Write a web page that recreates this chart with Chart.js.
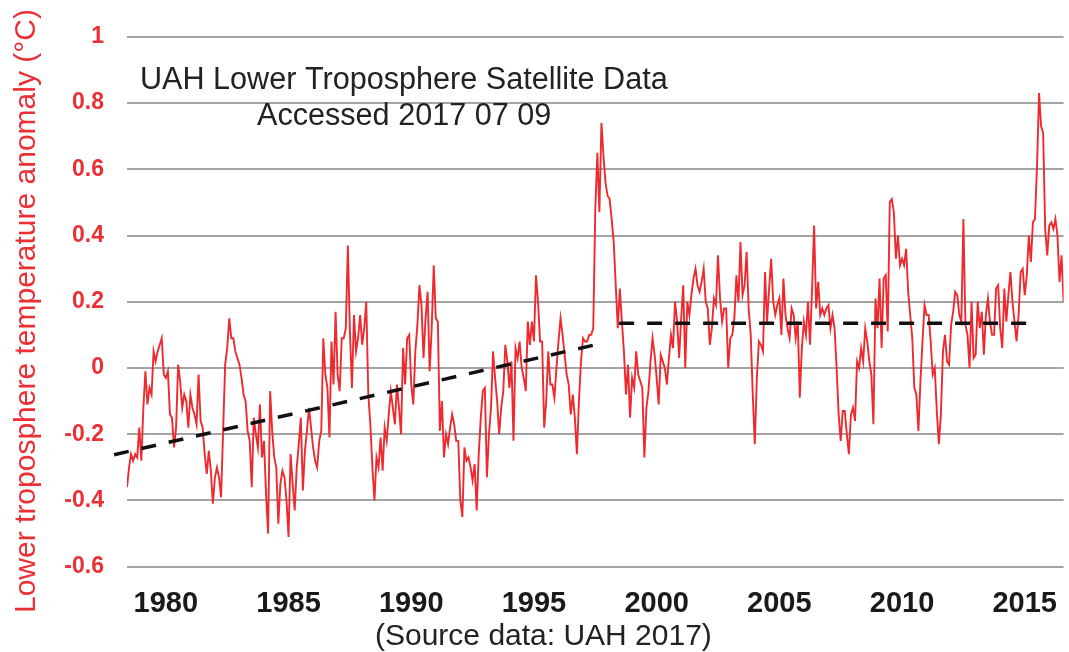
<!DOCTYPE html>
<html>
<head>
<meta charset="utf-8">
<title>UAH Lower Troposphere Satellite Data</title>
<style>
  html, body { margin: 0; padding: 0; background: #ffffff; }
  canvas { display: block; }
</style>
<script src="https://cdn.jsdelivr.net/npm/chart.js@4.4.1/dist/chart.umd.min.js"></script>
</head>
<body>
<canvas id="uahChart" width="1069" height="652"></canvas>
<script>
// Global lower-troposphere temperature anomaly (°C), monthly, from December 1978.
const firstMonth = 1978 + 11 / 12;

const uah1978to1979 = [-0.36, -0.30, -0.26, -0.28, -0.26, -0.27, -0.18, -0.28, -0.12, -0.01, -0.11, -0.06, -0.08];

const uah1980s = [
  0.05, 0.02, 0.05, 0.07, 0.09, -0.02, -0.03, -0.01, -0.14, -0.15, -0.24, -0.18,
  0.01, -0.04, -0.12, -0.08, -0.10, -0.18, -0.08, -0.12, -0.14, -0.17, -0.02, -0.16,
  -0.18, -0.26, -0.32, -0.25, -0.31, -0.41, -0.33, -0.30, -0.33, -0.39, -0.19, 0.01,
  0.06, 0.15, 0.09, 0.09, 0.05, 0.03, 0.01, -0.03, -0.08, -0.10, -0.19, -0.22,
  -0.36, -0.15, -0.20, -0.24, -0.11, -0.27, -0.22, -0.38, -0.50, -0.07, -0.19, -0.27,
  -0.30, -0.47, -0.35, -0.31, -0.33, -0.40, -0.51, -0.26, -0.35, -0.43, -0.30, -0.23,
  -0.15, -0.37, -0.25, -0.19, -0.12, -0.18, -0.24, -0.28, -0.30, -0.22, -0.19, 0.09,
  -0.02, -0.06, -0.21, 0.08, -0.05, 0.17, -0.02, -0.07, 0.09, 0.09, 0.12, 0.37,
  0.11, -0.06, 0.16, 0.05, 0.09, 0.16, 0.07, 0.12, 0.20, -0.08, -0.17, -0.30,
  -0.40, -0.27, -0.30, -0.21, -0.31, -0.18, -0.22, -0.14, -0.07, -0.12, -0.17, -0.05
];

const uah1990s = [
  -0.12, -0.20, 0.06, -0.05, 0.09, 0.10, -0.05, -0.11, 0.05, 0.13, 0.25, 0.19,
  0.03, 0.15, 0.23, -0.01, 0.12, 0.31, 0.15, 0.14, -0.19, -0.10, -0.27, -0.20,
  -0.23, -0.18, -0.14, -0.17, -0.22, -0.22, -0.40, -0.45, -0.24, -0.28, -0.27, -0.30,
  -0.34, -0.29, -0.43, -0.26, -0.15, -0.07, -0.06, -0.33, -0.20, -0.12, 0.05, -0.03,
  -0.10, -0.20, -0.12, -0.07, 0.07, 0.02, -0.06, 0.02, -0.22, 0.06, 0.03, 0.08,
  0.00, -0.03, -0.07, 0.14, 0.07, 0.14, 0.08, 0.28, 0.20, 0.08, 0.08, -0.18,
  -0.10, 0.05, -0.05, -0.05, -0.09, 0.00, 0.08, 0.15, 0.10, 0.04, -0.02, -0.05,
  -0.14, -0.08, -0.15, -0.26, -0.10, 0.02, 0.09, 0.08, 0.08, 0.10, 0.10, 0.12,
  0.48, 0.65, 0.47, 0.74, 0.64, 0.56, 0.52, 0.51, 0.45, 0.38, 0.25, 0.12,
  0.24, 0.14, 0.05, -0.08, 0.01, -0.15, -0.03, -0.06, 0.05, -0.02, -0.04, -0.06
];

const uah2000s = [
  -0.27, -0.12, -0.07, 0.02, 0.09, 0.04, -0.03, -0.11, 0.04, 0.02, 0.00, -0.05,
  0.03, 0.10, 0.06, 0.20, 0.14, 0.03, 0.15, 0.25, 0.00, 0.20, 0.16, 0.22,
  0.27, 0.30, 0.25, 0.23, 0.26, 0.30, 0.20, 0.18, 0.07, 0.12, 0.21, 0.19,
  0.34, 0.21, 0.14, 0.18, 0.18, 0.00, 0.09, 0.10, 0.15, 0.28, 0.20, 0.38,
  0.22, 0.25, 0.35, 0.18, 0.10, -0.08, -0.23, -0.03, 0.08, 0.07, 0.05, 0.29,
  0.14, 0.24, 0.33, 0.20, 0.16, 0.19, 0.21, 0.10, 0.27, 0.16, 0.12, 0.09,
  0.18, 0.16, 0.09, 0.14, -0.09, 0.06, 0.14, 0.10, 0.20, 0.07, 0.24, 0.43,
  0.18, 0.26, 0.16, 0.18, 0.16, 0.18, 0.19, 0.12, 0.16, 0.12, 0.00, -0.14,
  -0.22, -0.13, -0.13, -0.20, -0.26, -0.14, -0.12, -0.16, 0.02, 0.00, 0.06, 0.02,
  0.12, 0.08, 0.02, -0.02, -0.17, 0.21, 0.12, 0.27, 0.06, 0.27, 0.28, 0.11
];

const uah2010s = [
  0.50, 0.51, 0.47, 0.33, 0.40, 0.31, 0.33, 0.31, 0.36, 0.23, 0.16, 0.09,
  -0.06, -0.08, -0.19, -0.04, 0.08, 0.19, 0.16, 0.16, 0.08, -0.02, 0.00, -0.13,
  -0.23, -0.14, 0.05, 0.10, 0.02, 0.01, 0.13, 0.17, 0.23, 0.22, 0.16, 0.14,
  0.45, 0.13, 0.10, 0.00, 0.20, 0.03, 0.04, 0.20, 0.12, 0.17, 0.04, 0.16,
  0.21, 0.14, 0.10, 0.10, 0.24, 0.25, 0.12, 0.06, 0.24, 0.14, 0.22, 0.29,
  0.20, 0.14, 0.08, 0.16, 0.29, 0.30, 0.22, 0.28, 0.40, 0.32, 0.44, 0.45,
  0.61, 0.83, 0.73, 0.71, 0.42, 0.34, 0.43, 0.44, 0.42, 0.45, 0.40, 0.26,
  0.34, 0.20
];

// Dashed guide lines: rising trend to the 1998 peak, flat level afterwards
const trendRiseYears = [1978.39, 1998.29];
const trendRiseValues = [-0.262, 0.075];
const trendFlatYears = [1998.97, 2015.71];
const trendFlatValues = [0.135, 0.135];

// Axis labels
const yearLabels = [1980, 1985, 1990, 1995, 2000, 2005, 2010, 2015];
const anomalyTicks = [-0.6, -0.4, -0.2, 0, 0.2, 0.4, 0.6, 0.8, 1];

const titleLines = ['UAH Lower Troposphere Satellite Data', 'Accessed 2017 07 09'];
const sourceNote = '(Source data: UAH 2017)';
const yAxisTitle = 'Lower troposphere temperature anomaly (\u00B0C)';

const monthly = [].concat(uah1978to1979, uah1980s, uah1990s, uah2000s, uah2010s);
const monthlyPoints = monthly.map((v, i) => ({ x: firstMonth + i / 12, y: v }));
const lastMonth = firstMonth + (monthly.length - 1) / 12;
const toPoints = (xs, ys) => xs.map((x, i) => ({ x, y: ys[i] }));

const FONT = '"Liberation Sans", Arial, Helvetica, sans-serif';
const RED = '#ea2f35';
Chart.defaults.font.family = FONT;

// Free-standing captions and the rotated y-axis title
const captions = {
  id: 'captions',
  afterDraw(chart) {
    const c = chart.ctx;
    c.save();
    c.textAlign = 'left';
    c.textBaseline = 'alphabetic';
    c.fillStyle = '#222222';
    c.font = '30.6px ' + FONT;
    c.fillText(titleLines[0], 140, 89);
    c.fillText(titleLines[1], 257, 125);
    c.font = '30px ' + FONT;
    c.fillText(sourceNote, 375, 645);
    c.translate(35, 613);
    c.rotate(-Math.PI / 2);
    c.fillStyle = RED;
    c.fillText(yAxisTitle, 0, 0);
    c.restore();
  }
};

new Chart(document.getElementById('uahChart'), {
  type: 'line',
  data: {
    datasets: [
      {
        data: monthlyPoints,
        borderColor: '#ee2a2f',
        borderWidth: 1.9,
        pointRadius: 0,
        tension: 0,
        order: 2
      },
      {
        data: toPoints(trendRiseYears, trendRiseValues),
        borderColor: '#111111',
        borderWidth: 3.5,
        borderDash: [15, 13],
        pointRadius: 0,
        clip: false,
        order: 1
      },
      {
        data: toPoints(trendFlatYears, trendFlatValues),
        borderColor: '#111111',
        borderWidth: 3.5,
        borderDash: [15, 13],
        pointRadius: 0,
        clip: false,
        order: 1
      }
    ]
  },
  options: {
    responsive: false,
    animation: false,
    devicePixelRatio: 1,
    layout: { padding: { top: 33.3, right: 0, bottom: 0, left: 0 } },
    plugins: { legend: { display: false }, tooltip: { enabled: false } },
    scales: {
      x: {
        type: 'linear',
        min: firstMonth,
        max: lastMonth,
        grid: { display: false },
        border: { display: false },
        afterBuildTicks: (axis) => { axis.ticks = yearLabels.map(y => ({ value: y + 0.5 })); },
        afterFit: (axis) => { axis.height = 85.3; },
        ticks: {
          autoSkip: false,
          maxRotation: 0,
          padding: 12,
          color: '#1a1a1a',
          font: { size: 29, weight: 'bold' },
          callback: (v) => String(Math.floor(v))
        }
      },
      y: {
        min: -0.6,
        max: 1,
        afterBuildTicks: (axis) => { axis.ticks = anomalyTicks.map(v => ({ value: v })); },
        afterFit: (axis) => { axis.width = 127; },
        grid: { color: '#a4a4a4', lineWidth: 2, drawTicks: false },
        border: { display: false },
        ticks: {
          padding: 23,
          color: RED,
          font: { size: 23, weight: 'bold' },
          callback: (v) => String(+Number(v).toFixed(1))
        }
      }
    }
  },
  plugins: [captions]
});
</script>
</body>
</html>
